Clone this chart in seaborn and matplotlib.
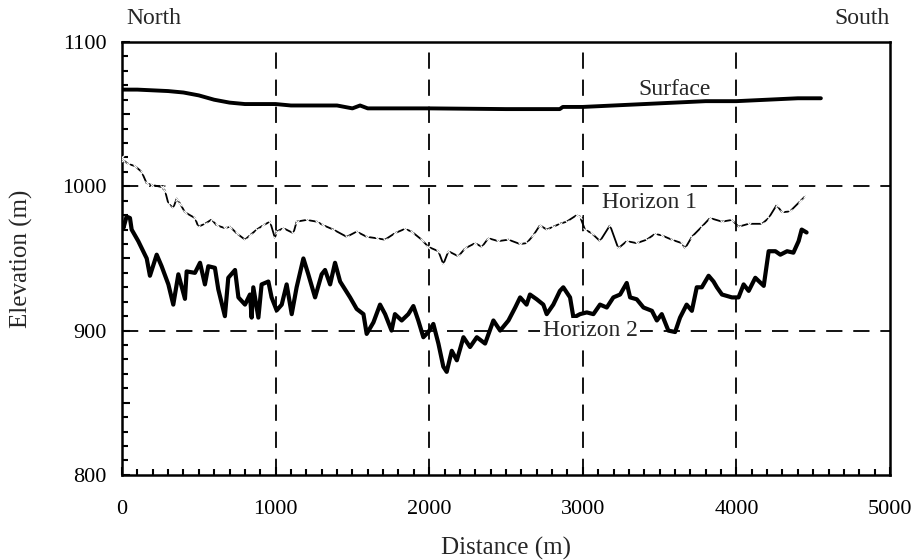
import numpy as np
import pandas as pd
import matplotlib
matplotlib.use("Agg")
import matplotlib.pyplot as plt
from matplotlib.ticker import MultipleLocator, FixedLocator
import seaborn as sns

# ---------------- data ----------------
surf_dist = [0, 100, 200, 300, 400, 500, 600, 700, 800, 900, 1000, 1100, 1200, 1300,
             1400, 1500, 1550, 1600, 1800, 2000, 2500, 2850, 2870, 3000, 3200, 3400,
             3600, 3800, 4000, 4200, 4400, 4550]
surf_elev = [1067, 1067, 1066.5, 1066, 1065, 1063, 1060, 1058, 1057, 1057, 1057, 1056,
             1056, 1056, 1056, 1054, 1056, 1054, 1054, 1054, 1053.5, 1053.5, 1055, 1055,
             1056, 1057, 1058, 1059, 1059, 1060, 1061, 1061]

h1_dist = [0, 9, 41, 85, 128, 161, 193, 258, 280, 302, 334, 356, 378, 410, 475, 497, 540,
           584, 616, 670, 703, 746, 801, 833, 877, 920, 964, 996, 1007, 1050, 1116, 1137,
           1202, 1268, 1311, 1376, 1463, 1528, 1593, 1658, 1712, 1777, 1842, 1886, 1951,
           1995, 2060, 2092, 2125, 2190, 2234, 2299, 2343, 2385, 2450, 2516, 2591, 2634,
           2678, 2721, 2765, 2808, 2851, 2895, 2960, 2982, 3014, 3058, 3112, 3177, 3231,
           3286, 3351, 3416, 3470, 3514, 3579, 3645, 3666, 3710, 3775, 3828, 3906, 3971,
           4014, 4080, 4167, 4210, 4262, 4297, 4349, 4414, 4447]
h1_elev = [1020, 1018, 1015.5, 1014, 1010, 1002, 1001, 999.5, 997, 988, 985, 991.5, 988,
           982, 978, 972, 974, 977, 973, 971, 972, 967.5, 963, 966, 970, 973, 975.5, 964,
           968.6, 971, 967.5, 975.5, 976.7, 975.5, 973, 970, 965, 968.6, 965, 964, 963,
           967.5, 970.5, 968.6, 963, 958, 955, 946, 955, 951.5, 957, 960.6, 958, 964, 962,
           963, 960, 960.6, 966, 973, 970, 972, 974, 975.5, 980, 979, 970, 967.5, 962, 973,
           957, 962, 960.6, 963, 967, 966, 963, 960.6, 957, 965, 972, 978, 975.5, 976.7,
           972, 974, 974, 978, 987, 982, 982.6, 989.5, 993]

h2_dist = [0, 9, 30, 52, 63, 106, 161, 182, 226, 258, 302, 334, 367, 410, 421, 475, 508,
           540, 562, 605, 627, 670, 692, 736, 758, 801, 833, 844, 855, 888, 909, 953, 974,
           1007, 1040, 1072, 1105, 1137, 1181, 1213, 1257, 1300, 1322, 1355, 1387, 1420,
           1485, 1528, 1572, 1593, 1637, 1680, 1713, 1755, 1777, 1821, 1864, 1897, 1929,
           1962, 1995, 2027, 2060, 2092, 2114, 2147, 2180, 2223, 2266, 2310, 2364, 2418,
           2462, 2516, 2560, 2592, 2634, 2656, 2700, 2743, 2765, 2808, 2851, 2873, 2917,
           2939, 2982, 3026, 3069, 3112, 3156, 3199, 3243, 3286, 3308, 3351, 3395, 3450,
           3482, 3514, 3557, 3601, 3633, 3676, 3710, 3742, 3775, 3819, 3851, 3873, 3906,
           3971, 4014, 4047, 4080, 4123, 4178, 4210, 4254, 4286, 4330, 4371, 4405, 4425,
           4457]
h2_elev = [975, 971, 979, 978, 970, 962, 950, 938, 952.6, 944.6, 932, 918, 939, 922, 941,
           940, 947, 932, 944.6, 943.5, 928.6, 910, 936.6, 942, 923, 918, 925, 909, 930,
           909, 932, 934, 923, 914, 918, 932, 911.4, 930, 950, 939, 923, 939, 942, 932,
           947, 934, 923, 915, 911.4, 897.7, 905.7, 918, 911.4, 900, 911.4, 907, 911.4,
           917, 907, 895.4, 899, 904.6, 891, 875, 871.4, 886, 879.4, 895.4, 888.6, 895.4,
           891, 907, 900, 907, 916, 923, 918, 925, 921.7, 918, 911.4, 918, 927.5, 930, 923,
           909, 911.4, 912.6, 911.4, 918, 916, 923, 925, 933, 923, 921.7, 916, 913.7, 907,
           911.4, 900, 899, 909, 918, 913.7, 930, 930, 938, 934, 930, 925, 923, 923, 932,
           927.5, 936.6, 931, 955, 955, 952.6, 955, 954, 962, 970, 968]

x_ticks = [0, 1000, 2000, 3000, 4000, 5000]
y_ticks = [800, 900, 1000, 1100]
series_labels = ["Surface", "Horizon 1", "Horizon 2"]

# ---------------- style ----------------
sns.set_style("ticks")
plt.rcParams["font.family"] = ["Liberation Serif", "DejaVu Serif"]
plt.rcParams["font.size"] = 16

fig = plt.figure(figsize=(9.22, 5.6), dpi=100)
ax = fig.add_axes([0.1323, 0.152, 0.833, 0.773])

surf = pd.DataFrame({"d": surf_dist, "e": surf_elev})
h1 = pd.DataFrame({"d": h1_dist, "e": h1_elev})
h2 = pd.DataFrame({"d": h2_dist, "e": h2_elev})

# grid
for gx in [1000, 2000, 3000, 4000]:
    ax.axvline(gx, color="black", lw=1.3, ls=(0, (9, 6)), zorder=1)
for gy in [900, 1000]:
    ax.axhline(gy, color="black", lw=1.3, ls=(0, (9, 6)), zorder=1)

sns.lineplot(data=surf, x="d", y="e", ax=ax, color="black", lw=2.8, zorder=3)
sns.lineplot(data=h1, x="d", y="e", ax=ax, color="black", lw=1.3, zorder=3,
             marker="x", markersize=3.5, markeredgewidth=0.8)
sns.lineplot(data=h2, x="d", y="e", ax=ax, color="black", lw=3.0, zorder=3)

ax.set_xlim(0, 5000)
ax.set_ylim(800, 1100)
ax.xaxis.set_major_locator(FixedLocator(x_ticks))
ax.xaxis.set_minor_locator(MultipleLocator(100))
ax.yaxis.set_major_locator(MultipleLocator(50))
ax.yaxis.set_minor_locator(MultipleLocator(10))
ax.set_yticklabels([str(int(v)) if v % 100 == 0 else "" for v in ax.get_yticks()])
ax.set_xticklabels([str(v) for v in x_ticks])

ax.tick_params(which="both", direction="in", top=False, right=False, width=1.5,
               colors="black", labelsize=16)
ax.tick_params(axis="x", which="major", length=6, pad=18)
ax.tick_params(axis="y", which="major", length=6, pad=11)
ax.tick_params(which="minor", length=4.5)
for s in ax.spines.values():
    s.set_linewidth(1.8)
    s.set_color("black")
    s.set_visible(True)

ax.set_xlabel("Distance (m)", fontsize=18, labelpad=13)
ax.set_ylabel("Elevation (m)", fontsize=18, labelpad=21)

ax.text(3600, 1067, series_labels[0], fontsize=17, ha="center", va="center", zorder=4)
ax.text(3437, 988.5, series_labels[1], fontsize=17, ha="center", va="center", zorder=4)
ax.text(3047, 900, series_labels[2], fontsize=17, ha="center", va="center", zorder=4,
        bbox=dict(facecolor="white", edgecolor="none", pad=1.5))

ax.text(0.006, 1.055, "North", transform=ax.transAxes, fontsize=17, ha="left", va="center")
ax.text(1.0, 1.055, "South", transform=ax.transAxes, fontsize=17, ha="right", va="center")

fig.savefig("out.png", dpi=100)
